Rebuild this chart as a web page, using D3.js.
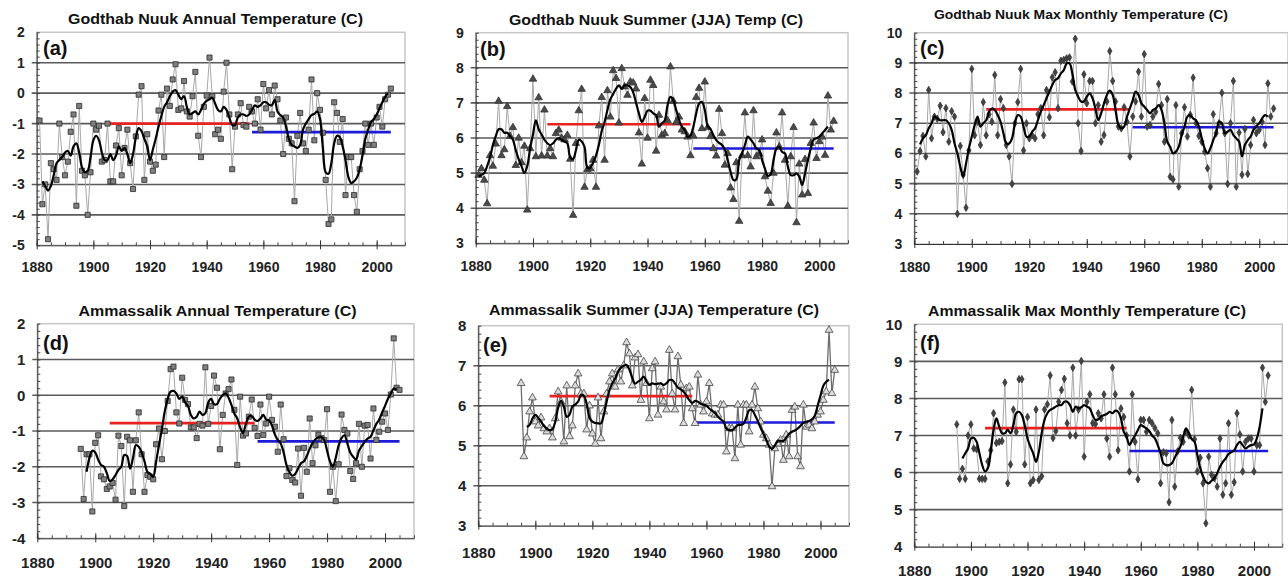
<!DOCTYPE html>
<html>
<head>
<meta charset="utf-8">
<script src="https://cdn.jsdelivr.net/npm/d3@7"></script>
<style>
  body { margin: 0; background: #fff; }
  svg { display: block; font-family: "Liberation Sans", Arial, sans-serif; }
</style>
</head>
<body>
<div id="chart"></div>
<script>
// ---- data ----
var nuukStart = 1881
var ammStart = 1895

var nuukAnnual = [
  -0.9, -3.65, -3.0, -4.8, -2.3, -2.5, -2.85, -1.0, -2.1, -2.7,        // 1881
  -2.25, -1.27, -0.7, -3.7, -0.42, -2.55, -2.7, -4.0, -2.6, -1.0,      // 1891
  -1.2, -1.07, -2.25, -2.2, -1.0, -2.9, -2.9, -1.72, -1.15, -2.7,      // 1901
  -1.8, -1.2, -2.3, -3.15, -1.42, -0.05, 0.23, -2.85, -1.35, -2.25,    // 1911
  -2.55, -2.35, -0.57, -0.05, -2.1, 0.15, -0.42, 0.45, 0.95, -0.55,    // 1921
  -0.5, 0.4, -0.6, -0.77, -0.1, 0.7, -1.4, -2.1, -0.45, -0.08,         // 1931
  1.17, -0.1, -1.35, -1.2, -1.5, 0.05, 1.0, -0.7, -2.5, -1.1,          // 1941
  -0.7, -0.33, -1.05, -1.1, -0.45, -0.6, -1.0, -0.2, -1.2, 0.3,        // 1951
  -0.5, 0.1, -0.7, 0.25, -0.2, -0.9, -2.0, -0.8, -1.5, -1.65,          // 1961
  -3.55, -1.4, -0.65, -1.65, -1.9, -1.2, 0.45, -1.55, 0.0, -0.55,      // 1971
  -1.3, -2.85, -4.3, -4.15, -0.3, -0.65, -1.6, -0.85, -3.35, -2.1,     // 1981
  -2.1, -3.35, -3.9, -2.5, -1.9, -1.0, -1.7, -1.0, -1.7, -0.8,         // 1991
  -0.45, -1.1, -0.2, -0.05, 0.15                                       // 2001
]
var nuukAnnualSmoothStart = 1882
var nuukAnnualSmooth = [
  -2.9, -3.05, -3.2, -3.05, -2.7, -2.3, -2.2, -2.1, -1.95, -1.9,       // 1882
  -2.05, -1.75, -1.65, -1.95, -2.45, -2.6, -2.55, -2.1, -1.55, -1.4,   // 1892
  -1.55, -1.95, -2.2, -2.2, -2.0, -2.2, -2.05, -1.75, -1.9, -1.8,      // 1902
  -2.0, -2.3, -2.0, -1.45, -1.15, -1.25, -1.5, -1.75, -2.2, -1.85,     // 1912
  -1.5, -1.1, -0.75, -0.45, -0.3, -0.1, 0.05, 0.1, -0.05, -0.2,        // 1922
  -0.1, -0.45, -0.7, -0.65, -0.6, -0.7, -0.55, -0.35, -0.25, -0.2,     // 1932
  -0.15, -0.35, -0.55, -0.6, -0.45, -0.55, -0.8, -1.05, -1.05, -0.8,   // 1942
  -0.7, -0.7, -0.75, -0.7, -0.55, -0.4, -0.45, -0.4, -0.3, -0.3,       // 1952
  -0.38, -0.4, -0.22, -0.6, -0.72, -0.8, -1.1, -1.5, -1.7, -1.75,      // 1962
  -1.8, -1.7, -1.2, -1.0, -0.85, -0.72, -0.68, -0.6, -0.85, -1.8,      // 1972
  -2.6, -2.65, -2.3, -1.65, -1.4, -1.45, -1.75, -2.2, -2.75, -2.95,    // 1982
  -2.9, -2.78, -2.5, -2.05, -1.5, -1.2, -0.95, -0.85, -0.7, -0.5,      // 1992
  -0.3, -0.12, 0.0                                                     // 2002
]

var nuukSummer = [
  4.94, 5.13, 4.8, 4.13, 5.5, 5.2, 5.83, 7.05, 5.5, 5.67,              // 1881
  6.9, 6.05, 6.3, 5.22, 6.0, 5.3, 5.77, 3.95, 5.7, 7.68,               // 1891
  5.47, 7.15, 5.49, 6.8, 5.49, 5.7, 5.47, 6.13, 6.23, 6.0,             // 1901
  5.95, 6.08, 5.4, 3.8, 5.85, 6.78, 7.39, 4.6, 5.1, 5.13,              // 1911
  5.37, 4.6, 6.35, 7.16, 5.37, 7.35, 6.6, 7.92, 7.7, 6.43,             // 1921
  7.98, 7.46, 7.22, 7.6, 7.57, 7.4, 6.15, 5.26, 7.13, 6.0,             // 1931
  7.65, 7.5, 5.63, 6.65, 6.08, 6.13, 6.5, 8.03, 7.05, 6.45,            // 1941
  6.6, 6.23, 6.18, 6.03, 5.5, 6.06, 7.16, 7.42, 6.27, 7.6,             // 1951
  6.3, 6.05, 5.7, 5.49, 6.82, 6.13, 5.23, 5.56, 4.58, 4.25,            // 1961
  5.3, 3.63, 5.5, 6.72, 5.5, 5.18, 6.78, 5.47, 5.55, 5.95,             // 1971
  4.9, 4.49, 4.14, 5.0, 6.15, 5.75, 6.72, 5.37, 4.06, 5.47,            // 1981
  6.3, 3.59, 5.26, 4.38, 5.39, 4.42, 5.85, 6.43, 5.42, 5.9,            // 1991
  6.03, 5.51, 7.2, 6.23, 6.48                                          // 2001
]
var nuukSummerSmoothStart = 1881
var nuukSummerSmooth = [
  4.9, 4.95, 5.0, 5.2, 5.45, 5.8, 6.05, 6.25, 6.25, 6.15,              // 1881
  6.15, 6.05, 5.95, 5.65, 5.4, 5.2, 5.0, 5.2, 5.7, 6.1,                // 1891
  6.5, 6.25, 6.1, 5.95, 5.85, 5.8, 5.85, 5.95, 6.0, 5.95,              // 1901
  5.9, 5.85, 5.45, 5.4, 5.65, 5.95, 5.9, 5.75, 5.15, 5.15,             // 1911
  5.3, 5.5, 5.8, 6.2, 6.45, 6.8, 7.1, 7.25, 7.4, 7.5,                  // 1921
  7.4, 7.5, 7.5, 7.45, 7.3, 7.0, 6.7, 6.46, 6.6, 6.78,                 // 1931
  6.78, 6.7, 6.65, 6.32, 6.42, 6.5, 6.94, 7.17, 7.08, 6.8,             // 1941
  6.52, 6.32, 6.23, 6.03, 6.08, 6.32, 6.7, 6.98, 7.03, 6.8,            // 1951
  6.34, 6.25, 6.08, 5.94, 5.86, 5.8, 5.67, 5.37, 5.04, 4.8,            // 1961
  4.82, 5.37, 5.56, 5.8, 6.04, 5.96, 5.85, 5.7, 5.66, 5.37,            // 1971
  5.13, 4.92, 4.97, 5.37, 5.7, 5.75, 5.6, 5.56, 5.18, 4.94,            // 1981
  4.94, 4.99, 4.9, 4.66, 4.99, 5.37, 5.7, 5.96, 5.99, 6.04,            // 1991
  6.13, 6.23, 6.32                                                     // 2001
]

var nuukMaxMonth = [
  5.4, 6.08, 6.58, 5.9, 8.1, 6.5, 7.22, 7.15, 7.58, 6.7,               // 1881
  7.5, 6.39, 7.4, 7.22, 4.0, 6.25, 5.29, 4.2, 6.1, 8.8,                // 1891
  6.6, 7.05, 6.28, 7.7, 6.6, 7.3, 7.05, 8.6, 6.6, 7.8,                 // 1901
  7.5, 6.28, 5.9, 4.99, 7.0, 7.7, 8.8, 6.1, 7.0, 6.5,                  // 1911
  6.6, 6.5, 7.3, 7.5, 6.6, 8.1, 7.2, 8.52, 8.69, 7.5,                  // 1921
  9.07, 9.1, 9.15, 9.18, 8.38, 9.8, 7.0, 6.08, 8.62, 7.66,             // 1931
  8.4, 8.4, 7.0, 7.6, 6.39, 6.61, 7.72, 9.39, 8.4, 7.72,               // 1941
  6.89, 6.83, 7.53, 7.05, 5.9, 7.22, 7.72, 8.71, 7.22, 9.29,           // 1951
  6.89, 6.94, 7.22, 7.38, 8.3, 7.6, 6.39, 7.8, 5.23, 5.14,             // 1961
  7.6, 4.9, 6.67, 7.53, 6.56, 7.28, 8.51, 7.0, 6.58, 6.39,             // 1971
  6.06, 5.51, 4.9, 7.3, 6.67, 7.0, 8.01, 6.67, 4.99, 7.0,              // 1981
  8.4, 4.9, 6.69, 5.29, 6.81, 5.32, 6.28, 7.11, 6.67, 6.78,            // 1991
  7.05, 6.28, 8.32, 7.22, 7.49                                         // 2001
]
var nuukMaxSmoothStart = 1882
var nuukMaxSmooth = [
  6.3, 6.5, 6.6, 6.83, 7.0, 7.22, 7.16, 7.1, 7.1, 7.1,                 // 1882
  7.0, 6.78, 6.33, 6.0, 5.56, 5.23, 5.67, 6.17, 6.56, 6.94,            // 1892
  7.22, 6.89, 7.0, 7.1, 7.38, 7.49, 7.44, 7.27, 7.05, 6.67,            // 1902
  6.33, 6.33, 6.5, 7.0, 7.27, 7.22, 6.89, 6.56, 6.56, 6.72,            // 1912
  6.83, 7.1, 7.38, 7.6, 7.83, 8.05, 8.27, 8.43, 8.49, 8.65,            // 1922
  8.76, 8.98, 8.98, 8.65, 8.1, 7.88, 7.72, 7.72, 7.88, 7.99,           // 1932
  7.83, 7.49, 7.1, 7.33, 7.66, 7.94, 8.08, 7.94, 7.44, 6.94,           // 1942
  6.83, 6.89, 7.22, 7.49, 7.77, 8.05, 7.94, 7.66, 7.55, 7.44,          // 1952
  7.33, 7.44, 7.49, 7.6, 7.44, 7.0, 6.39, 6.22, 6.0, 6.06,             // 1962
  6.22, 6.61, 6.89, 7.22, 7.27, 7.16, 7.1, 6.89, 6.5, 6.17,            // 1972
  6.0, 6.17, 6.44, 6.67, 7.05, 7.0, 6.67, 6.72, 6.78, 6.61,            // 1982
  6.5, 6.39, 5.9, 6.28, 6.44, 6.56, 6.78, 6.91, 7.0, 7.16,             // 1992
  7.27, 7.22                                                           // 2002
]

var ammAnnual = [
  -1.5, -2.9, -1.65, -1.65, -3.25, -1.33, -1.12, -2.27, -2.35, -2.62,  // 1895
  -2.55, -2.45, -2.92, -1.13, -1.42, -3.1, -1.16, -1.26, -2.7, -1.26,  // 1905
  -0.48, -1.65, -2.7, -2.23, -2.28, -2.35, -1.37, -0.93, -1.79, -1.0,  // 1915
  -0.16, 0.73, 0.8, -0.48, -0.79, 0.49, -0.13, -0.25, -0.9, -0.9,      // 1925
  -1.2, -0.8, -0.85, 0.78, -0.8, -0.3, 0.55, 0.21, -1.51, -0.55,       // 1935
  0.05, 0.17, 0.44, -0.41, -1.95, -0.04, -1.13, -1.07, -0.6, -0.12,    // 1945
  -0.91, -1.14, -0.26, -1.11, -0.79, -0.04, -0.69, -0.88, -1.58, -0.26, // 1955
  -1.23, -2.26, -2.04, -2.37, -2.44, -1.49, -2.81, -1.47, -2.14, -0.65, // 1965
  -1.9, -1.4, -1.1, -1.2, -1.25, -0.39, -2.7, -2.0, -2.96, -1.93,      // 1975
  -0.54, -0.97, -1.07, -2.12, -2.34, -1.9, -0.8, -2.0, -0.85, -0.83,   // 1985
  -1.77, -0.37, -1.25, -1.02, -0.74, -0.51, -0.97, 0.02, 1.59, 0.21,   // 1995
  0.15                                                                 // 2005
]
var ammAnnualSmoothStart = 1897
var ammAnnualSmooth = [
  -2.14, -1.75, -1.55, -1.6, -1.8, -1.95, -2.0, -2.18, -2.4, -2.35,    // 1897
  -2.23, -2.09, -2.0, -1.67, -1.7, -2.05, -1.77, -1.4, -1.44, -1.6,    // 1907
  -1.85, -2.14, -2.2, -2.28, -1.86, -1.39, -0.95, -0.45, -0.1, 0.1,    // 1917
  0.12, 0.05, -0.1, -0.04, -0.2, -0.3, -0.55, -0.65, -0.6, -0.46,      // 1927
  -0.55, -0.5, -0.2, -0.1, -0.25, -0.25, -0.1, 0.0, 0.05, -0.07,       // 1937
  -0.27, -0.51, -0.65, -0.9, -1.05, -0.8, -0.6, -0.58, -0.68, -0.72,   // 1947
  -0.65, -0.55, -0.68, -0.7, -0.85, -1.1, -1.25, -1.35, -1.6, -1.95,   // 1957
  -2.15, -2.25, -2.2, -2.05, -1.9, -1.85, -1.7, -1.5, -1.33, -1.23,    // 1967
  -1.18, -1.17, -1.25, -1.55, -1.85, -2.0, -1.75, -1.4, -1.2, -1.12,   // 1977
  -1.35, -1.6, -1.72, -1.8, -1.55, -1.42, -1.3, -1.21, -1.16, -0.98,   // 1987
  -0.8, -0.68, -0.48, -0.3, -0.1, 0.05, 0.19, 0.15                     // 1997
]

var ammSummer = [
  6.56, 4.73, 5.2, 5.85, 6.2, 5.6, 5.5, 5.7, 5.43, 5.35,               // 1895
  5.43, 5.2, 5.68, 6.35, 6.1, 5.1, 6.5, 5.23, 5.5, 6.5,                // 1905
  6.8, 6.3, 6.3, 5.4, 6.0, 5.3, 5.05, 6.2, 5.18, 5.85,                 // 1915
  6.3, 6.6, 6.8, 6.47, 6.9, 6.6, 7.0, 7.58, 7.3, 6.5,                  // 1925
  7.2, 7.28, 6.14, 7.1, 6.56, 5.68, 6.93, 7.1, 5.77, 6.47,             // 1935
  6.1, 5.9, 7.39, 6.3, 5.9, 7.23, 6.52, 5.56, 6.43, 6.47,              // 1945
  5.93, 5.56, 6.77, 6.02, 5.85, 6.1, 6.56, 5.8, 5.77, 5.77,            // 1955
  6.02, 6.02, 4.85, 5.43, 5.43, 4.68, 6.02, 5.02, 6.02, 6.02,          // 1965
  5.35, 6.02, 6.47, 5.93, 5.6, 5.27, 5.18, 5.02, 3.98, 4.93,           // 1975
  5.05, 5.14, 4.64, 5.27, 4.73, 5.89, 5.97, 4.73, 4.48, 6.02,          // 1985
  5.47, 5.52, 5.43, 5.6, 5.77, 5.85, 6.14, 6.35, 7.89, 6.31,           // 1995
  6.89                                                                 // 2005
]
var ammSummerSmoothStart = 1897
var ammSummerSmooth = [
  5.47, 5.52, 5.68, 5.77, 5.7, 5.6, 5.5, 5.43, 5.39, 5.42,             // 1897
  5.6, 5.95, 6.12, 5.98, 5.72, 5.78, 5.98, 6.03, 6.1, 6.27,            // 1907
  6.25, 6.05, 5.7, 5.6, 5.57, 5.56, 5.56, 5.77, 6.1, 6.39,             // 1917
  6.56, 6.68, 6.85, 6.95, 7.0, 7.02, 6.9, 6.7, 6.55, 6.6,              // 1927
  6.65, 6.73, 6.6, 6.52, 6.56, 6.54, 6.55, 6.56, 6.52, 6.56,           // 1937
  6.64, 6.64, 6.55, 6.45, 6.41, 6.35, 6.25, 6.14, 6.07, 6.12,          // 1947
  6.1, 6.05, 6.02, 6.0, 5.93, 5.87, 5.82, 5.73, 5.66, 5.6,             // 1957
  5.43, 5.39, 5.39, 5.45, 5.52, 5.52, 5.55, 5.7, 5.89, 5.89,           // 1967
  5.77, 5.62, 5.45, 5.3, 5.14, 4.98, 4.92, 5.0, 5.12, 5.12,            // 1977
  5.12, 5.2, 5.3, 5.35, 5.38, 5.43, 5.5, 5.57, 5.6, 5.62,              // 1987
  5.66, 5.75, 6.0, 6.25, 6.5, 6.6, 6.65                                // 1997
]

var ammMaxMonth = [
  7.3, 5.83, 6.1, 5.83, 7.0, 7.3, 6.65, 6.63, 5.83, 5.83,              // 1895
  5.83, 6.3, 6.6, 7.6, 6.8, 6.83, 6.85, 8.43, 5.71, 6.22,              // 1905
  7.7, 7.1, 8.52, 8.52, 6.22, 7.5, 5.71, 5.8, 7.7, 5.8,                // 1915
  5.9, 7.7, 7.84, 8.62, 6.93, 7.12, 7.91, 8.23, 8.53, 7.33,            // 1925
  7.0, 8.83, 7.0, 7.7, 9.01, 6.43, 7.91, 8.11, 7.33, 7.31,             // 1935
  7.6, 7.46, 8.11, 6.92, 6.43, 8.83, 8.11, 6.6, 7.73, 7.5,             // 1945
  7.0, 6.03, 8.11, 6.83, 5.82, 7.42, 7.42, 7.1, 7.42, 7.33,            // 1955
  7.2, 7.06, 5.71, 6.55, 6.52, 5.2, 7.42, 5.62, 6.57, 6.94,            // 1965
  6.83, 7.1, 7.0, 8.23, 6.9, 6.03, 6.4, 5.71, 4.63, 6.43,              // 1975
  5.94, 5.85, 5.62, 6.92, 5.4, 5.71, 7.33, 5.4, 5.74, 7.6,             // 1985
  7.03, 6.03, 6.83, 6.92, 6.92, 6.03, 6.74, 6.74, 8.83, 7.91,          // 1995
  8.62                                                                 // 2005
]
var ammMaxSmoothStart = 1897
var ammMaxSmooth = [
  6.38, 6.52, 6.65, 6.92, 6.94, 6.83, 6.52, 6.2, 6.03, 6.12,           // 1897
  6.56, 7.15, 7.46, 7.24, 7.06, 7.06, 7.15, 7.06, 7.28, 7.6,           // 1907
  7.64, 7.55, 7.28, 6.92, 6.7, 6.52, 6.29, 6.56, 7.06, 7.42,           // 1917
  7.6, 7.69, 7.73, 7.78, 7.82, 7.82, 7.91, 7.91, 7.82, 7.64,           // 1927
  7.78, 7.73, 7.76, 7.82, 7.78, 7.73, 7.55, 7.42, 7.44, 7.52,          // 1937
  7.55, 7.58, 7.64, 7.6, 7.67, 7.64, 7.46, 7.1, 6.97, 6.74,            // 1947
  6.88, 7.0, 7.15, 7.28, 7.24, 7.19, 7.12, 7.0, 6.92, 6.74,            // 1957
  6.52, 6.25, 6.2, 6.2, 6.25, 6.4, 6.56, 6.7, 6.97, 7.19,              // 1967
  7.06, 6.9, 6.83, 6.47, 6.12, 5.9, 5.75, 5.71, 5.78, 5.85,            // 1977
  5.98, 6.16, 6.29, 6.38, 6.5, 6.55, 6.6, 6.74, 6.83, 6.74,            // 1987
  6.65, 6.7, 6.74, 6.76, 6.92, 7.24, 7.73                              // 1997
]

// period means: red 1905-1955, blue 1956-2005
var earlyPeriod = [1905, 1955]
var latePeriod = [1956, 2005]
var earlyMeans = [-1.0, 6.39, 7.46, -0.78, 6.24, 7.2]
var lateMeans = [-1.28, 5.7, 6.87, -1.29, 5.58, 6.58]

var titles = [
  "Godthab Nuuk Annual Temperature (C)",
  "Godthab Nuuk Summer (JJA) Temp (C)",
  "Godthab Nuuk Max Monthly Temperature (C)",
  "Ammassalik Annual Temperature (C)",
  "Ammassalik Summer (JJA) Temperature (C)",
  "Ammassalik Max Monthly Temperature (C)"
]
var letters = ["(a)", "(b)", "(c)", "(d)", "(e)", "(f)"]
var yDomains = [[-5, 2], [3, 9], [3, 10], [-4, 2], [3, 8], [4, 10]]
var xLabelYears = [1880, 1900, 1920, 1940, 1960, 1980, 2000]

var series = [
  { values: nuukAnnual, start: nuukStart, smooth: nuukAnnualSmooth, smoothStart: nuukAnnualSmoothStart },
  { values: nuukSummer, start: nuukStart, smooth: nuukSummerSmooth, smoothStart: nuukSummerSmoothStart },
  { values: nuukMaxMonth, start: nuukStart, smooth: nuukMaxSmooth, smoothStart: nuukMaxSmoothStart },
  { values: ammAnnual, start: ammStart, smooth: ammAnnualSmooth, smoothStart: ammAnnualSmoothStart },
  { values: ammSummer, start: ammStart, smooth: ammSummerSmooth, smoothStart: ammSummerSmoothStart },
  { values: ammMaxMonth, start: ammStart, smooth: ammMaxSmooth, smoothStart: ammMaxSmoothStart }
]

// ---- layout (pixels) ----
var layout = [
  { x0: 36.7, x1: 405, yTop: 32.3, yBot: 245.3, fs: 14, lab: 27, tx: 215.5, ty: 24, tw: 295, tfs: 14,
    lx: 43, ly: 55, marker: "square" },
  { x0: 475.7, x1: 848, yTop: 32.7, yBot: 243.3, fs: 14, lab: 28, tx: 656, ty: 25, tw: 294, tfs: 14,
    lx: 480, ly: 56, marker: "triangle" },
  { x0: 914.3, x1: 1288, yTop: 32.7, yBot: 244, fs: 14, lab: 28, tx: 1081, ty: 19, tw: 294, tfs: 12.5,
    lx: 920, ly: 55, marker: "diamond" },
  { x0: 37.3, x1: 414, yTop: 323.7, yBot: 538.3, fs: 15, lab: 30, tx: 217.5, ty: 316, tw: 278, tfs: 14,
    lx: 43, ly: 350, marker: "square" },
  { x0: 478.3, x1: 849, yTop: 325.7, yBot: 525.7, fs: 15, lab: 32, tx: 654, ty: 315, tw: 330, tfs: 14,
    lx: 483, ly: 352, marker: "open" },
  { x0: 914.3, x1: 1282.3, yTop: 324.3, yBot: 546.7, fs: 15, lab: 29, tx: 1087, ty: 316, tw: 318, tfs: 14,
    lx: 920, ly: 350, marker: "diamond" }
]

var svg = d3.select("#chart").append("svg")
  .attr("width", 1288)
  .attr("height", 578)

layout.forEach(function(p, i) {
  var s = series[i]
  var dom = yDomains[i]
  var x = d3.scaleLinear().domain([1880, 2010]).range([p.x0, p.x1])
  var y = d3.scaleLinear().domain(dom).range([p.yBot, p.yTop])
  var g = svg.append("g").attr("class", "panel")

  var pts = s.values.map(function(v, k) { return { year: s.start + k, value: v } })
  var smoothPts = s.smooth.map(function(v, k) { return { year: s.smoothStart + k, value: v } })

  // frame
  g.append("rect")
    .attr("x", p.x0).attr("y", p.yTop)
    .attr("width", p.x1 - p.x0).attr("height", p.yBot - p.yTop)
    .attr("fill", "none").attr("stroke", "#c6c6c6").attr("stroke-width", 1.5)

  // gridlines
  g.selectAll(".grid")
    .data(d3.range(dom[0] + 1, dom[1]))
    .enter().append("line")
    .attr("x1", p.x0 - 5).attr("x2", p.x1)
    .attr("y1", function(d) { return y(d) }).attr("y2", function(d) { return y(d) })
    .attr("stroke", "#5a5a5a").attr("stroke-width", 1.6)

  // y axis
  var yAxis = d3.axisLeft(y)
    .tickValues(d3.range(dom[0], dom[1] + 1))
    .tickSizeInner(0).tickSizeOuter(0).tickPadding(12)
    .tickFormat(function(d) { return String(d) })
  var ya = g.append("g").attr("transform", "translate(" + p.x0 + ",0)").call(yAxis)
  ya.select(".domain").attr("stroke", "#333")
  ya.selectAll("text").attr("font-size", p.fs).attr("font-weight", "bold").attr("fill", "#222")
    .attr("font-family", "Liberation Sans, Arial, sans-serif")

  var yMinor = d3.axisLeft(y)
    .tickValues(d3.range(dom[0] * 5, dom[1] * 5 + 1).map(function(d) { return d / 5 }))
    .tickSizeInner(-3).tickSizeOuter(0).tickFormat("")
  var ym = g.append("g").attr("transform", "translate(" + p.x0 + ",0)").call(yMinor)
  ym.select(".domain").remove()
  ym.selectAll("line").attr("stroke", "#444")

  // x axis
  var xAxis = d3.axisBottom(x)
    .tickValues(xLabelYears)
    .tickSizeInner(4).tickSizeOuter(0)
    .tickFormat(function(d) { return String(d) })
  var xa = g.append("g").attr("transform", "translate(0," + p.yBot + ")").call(xAxis)
  xa.select(".domain").attr("stroke", "#333")
  xa.selectAll("line").attr("stroke", "#333")
  xa.selectAll("text")
    .attr("y", p.lab).attr("dy", null)
    .attr("font-size", p.fs).attr("font-weight", "bold").attr("fill", "#222")
    .attr("font-family", "Liberation Sans, Arial, sans-serif")

  var xMinor = d3.axisBottom(x)
    .tickValues(d3.range(1880, 2011, 5))
    .tickSizeInner(-3).tickSizeOuter(0).tickFormat("")
  var xm = g.append("g").attr("transform", "translate(0," + p.yBot + ")").call(xMinor)
  xm.select(".domain").remove()
  xm.selectAll("line").attr("stroke", "#444")
  var xMajorUp = d3.axisBottom(x)
    .tickValues(xLabelYears)
    .tickSizeInner(-5).tickSizeOuter(0).tickFormat("")
  var xu = g.append("g").attr("transform", "translate(0," + p.yBot + ")").call(xMajorUp)
  xu.select(".domain").remove()
  xu.selectAll("line").attr("stroke", "#333")

  // connecting line of yearly values
  var line = d3.line()
    .x(function(d) { return x(d.year) })
    .y(function(d) { return y(d.value) })
  g.append("path")
    .datum(pts)
    .attr("d", line)
    .attr("fill", "none")
    .attr("stroke", p.marker == "open" ? "#6e6e6e" : "#a8a8a8")
    .attr("stroke-width", p.marker == "open" ? 1.3 : 1)

  // period means
  g.append("line")
    .attr("x1", x(earlyPeriod[0])).attr("x2", x(earlyPeriod[1]))
    .attr("y1", y(earlyMeans[i])).attr("y2", y(earlyMeans[i]))
    .attr("stroke", "#e8231f").attr("stroke-width", 2.6)
  g.append("line")
    .attr("x1", x(latePeriod[0])).attr("x2", x(latePeriod[1]))
    .attr("y1", y(lateMeans[i])).attr("y2", y(lateMeans[i]))
    .attr("stroke", "#1d1ad8").attr("stroke-width", 2.6)

  // markers
  var sym = d3.symbol()
  var fill = "#808080", stroke = "#2a2a2a"
  if (p.marker == "square") { sym.type(d3.symbolSquare).size(26) }
  if (p.marker == "triangle") { sym.type(d3.symbolTriangle).size(24); fill = "#4a4a4a"; stroke = "#333" }
  if (p.marker == "diamond") { sym.type(d3.symbolDiamond).size(16); fill = "#444"; stroke = "#333" }
  if (p.marker == "open") { sym.type(d3.symbolTriangle).size(26); fill = "#dcdcdc"; stroke = "#444" }
  g.selectAll(".mark")
    .data(pts)
    .enter().append("path")
    .attr("class", "mark")
    .attr("transform", function(d) { return "translate(" + x(d.year) + "," + y(d.value) + ")" })
    .attr("d", sym)
    .attr("fill", fill)
    .attr("stroke", stroke)
    .attr("stroke-width", 0.8)

  // smoothed curve
  var smoothLine = d3.line()
    .curve(d3.curveCatmullRom)
    .x(function(d) { return x(d.year) })
    .y(function(d) { return y(d.value) })
  g.append("path")
    .datum(smoothPts)
    .attr("d", smoothLine)
    .attr("fill", "none")
    .attr("stroke", "#000")
    .attr("stroke-width", 2.2)
    .attr("stroke-linejoin", "round")

  // panel letter
  g.append("text")
    .attr("x", p.lx).attr("y", p.ly)
    .attr("font-size", 20).attr("font-weight", "bold").attr("fill", "#111")
    .text(letters[i])

  // title
  g.append("text")
    .attr("x", p.tx).attr("y", p.ty)
    .attr("text-anchor", "middle")
    .attr("font-size", p.tfs).attr("font-weight", "bold").attr("fill", "#111")
    .attr("textLength", p.tw).attr("lengthAdjust", "spacingAndGlyphs")
    .text(titles[i])
})
</script>
</body>
</html>
